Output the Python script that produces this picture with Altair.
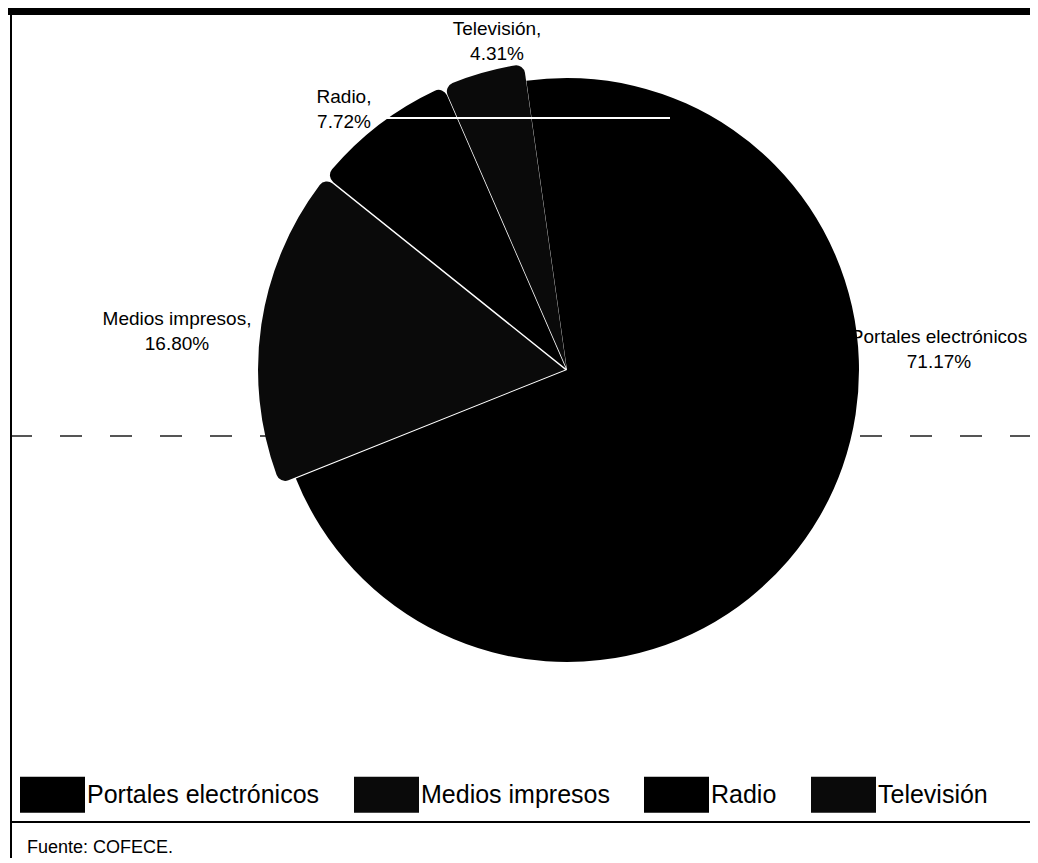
import math
import numpy as np
import pandas as pd
import altair as alt

# ---- data ----
categories = ["Portales electrónicos", "Medios impresos", "Radio", "Televisión"]
shares = [71.17, 16.80, 7.72, 4.31]
colors = ["#000000", "#0a0a0a", "#000000", "#0a0a0a"]

# ---- layout / style ----
W, H = 1022, 850
FONT = "Liberation Sans, Arial, sans-serif"
CX, CY, R = 559, 362, 292
ROT = math.radians(-8)
explode = [0, 2, 2, 2]
radius_extra = [0, 15, 15, 15]
corner = [0, 9, 9, 9]
label_pos = [(931, 335), (169, 317), (336, 95), (489, 27)]

ends = np.cumsum(shares)
starts = ends - np.array(shares)
df = pd.DataFrame({
    "category": categories,
    "share": shares,
    "start": starts,
    "end": ends,
})

theta_scale = alt.Scale(domain=[0, 100], range=[ROT, ROT + 2 * math.pi])
color_scale = alt.Scale(domain=categories, range=colors)

legend = alt.Legend(
    title=None, orient="none", legendX=12, legendY=754, direction="horizontal",
    columns=4, columnPadding=34, labelFont=FONT, labelFontSize=25,
    labelColor="#000", labelLimit=400, labelOffset=2, padding=0,
    symbolType="M-1,-0.554H1V0.554H-1Z", symbolSize=4225,
    symbolStrokeWidth=0, symbolOpacity=1,
)

layers = []

one = pd.DataFrame({"a": [0]})
# dashed scan guide line
layers.append(alt.Chart(one).mark_rule(color="#555", strokeWidth=2, strokeDash=[22, 28]).encode(
    x=alt.value(2), x2=alt.value(W), y=alt.value(428)))

for i, cat in enumerate(categories):
    mid = ROT + 2 * math.pi * (starts[i] + ends[i]) / 2 / 100
    dx = explode[i] * math.sin(mid)
    dy = -explode[i] * math.cos(mid)
    layers.append(
        alt.Chart(df).transform_filter(alt.datum.category == cat)
        .mark_arc(radius=R + radius_extra[i], cornerRadius=corner[i], opacity=1)
        .encode(
            theta=alt.Theta("start:Q", scale=theta_scale),
            theta2="end:Q",
            color=alt.Color("category:N", scale=color_scale, legend=legend, sort=categories),
            x=alt.value(CX + dx),
            y=alt.value(CY + dy),
        )
    )

# white scan streak across the pie
layers.append(alt.Chart(one).mark_rule(color="#ffffff", strokeWidth=2).encode(
    x=alt.value(377), x2=alt.value(662), y=alt.value(110)))

label_names = [categories[0]] + [c + "," for c in categories[1:]]
lab = pd.DataFrame({
    "label": [f"{c}\n{v:.2f}%" for c, v in zip(label_names, shares)],
    "lx": [p[0] for p in label_pos],
    "ly": [p[1] for p in label_pos],
})
layers.append(alt.Chart(lab).mark_text(
    font=FONT, fontSize=19, color="#000", align="center", baseline="alphabetic",
    lineBreak="\n", lineHeight=25,
).encode(
    x=alt.X("lx:Q", scale=None, axis=None),
    y=alt.Y("ly:Q", scale=None, axis=None),
    text="label:N",
))

# frame lines
layers.append(alt.Chart(one).mark_rect(color="#000").encode(
    x=alt.value(0), x2=alt.value(W), y=alt.value(0), y2=alt.value(7)))
layers.append(alt.Chart(one).mark_rule(color="#000", strokeWidth=2).encode(
    x=alt.value(3), y=alt.value(0), y2=alt.value(H)))
layers.append(alt.Chart(one).mark_rule(color="#000", strokeWidth=2).encode(
    x=alt.value(3), x2=alt.value(W), y=alt.value(814)))

layers.append(alt.Chart(one).mark_text(
    font=FONT, fontSize=18, color="#000", align="left", baseline="alphabetic",
).encode(x=alt.value(19), y=alt.value(845), text=alt.value("Fuente: COFECE.")))

chart = alt.layer(*layers).properties(
    width=W, height=H, padding=0,
    autosize=alt.AutoSizeParams(type="none"),
    background="white",
).configure_view(stroke=None)

chart.save("out.html", embed_options={"renderer": "svg", "actions": False})
